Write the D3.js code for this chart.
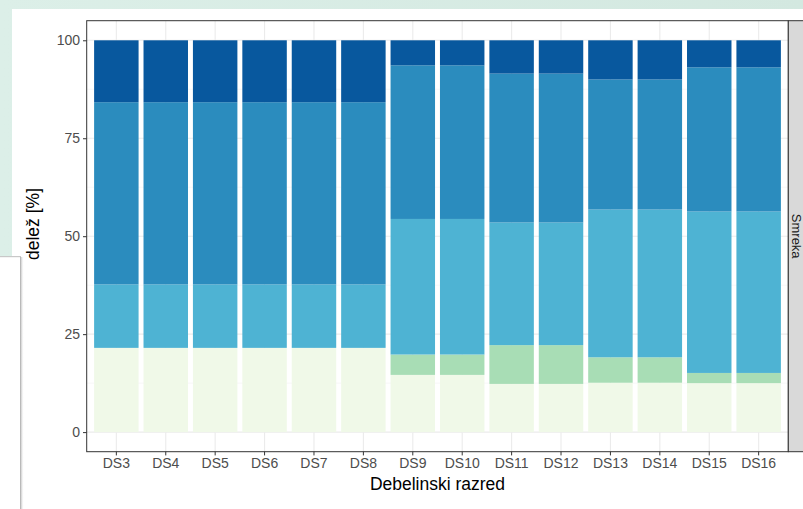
<!DOCTYPE html>
<html><head><meta charset="utf-8">
<script src="https://cdn.jsdelivr.net/npm/d3@7"></script>
<style>html,body{margin:0;padding:0;overflow:hidden;background:#fff}</style>
</head><body>
<svg id="c" width="803" height="509"></svg>
<script>
const categories = ["DS3","DS4","DS5","DS6","DS7","DS8","DS9","DS10","DS11","DS12","DS13","DS14","DS15","DS16"];
const seriesNames = ["s1","s2","s3","s4","s5"];
const seriesColors = ["#f0f9e8","#a8ddb5","#4eb3d3","#2b8cbe","#08589e"];
const s1 = [21.5,21.5,21.5,21.5,21.5,21.5,14.6,14.6,12.3,12.3,12.6,12.6,12.5,12.5];
const s2 = [0,0,0,0,0,0,5.2,5.2,9.9,9.9,6.5,6.5,2.6,2.6];
const s3 = [16.2,16.2,16.2,16.2,16.2,16.2,34.6,34.6,31.3,31.3,37.7,37.7,41.2,41.2];
const s4 = [46.5,46.5,46.5,46.5,46.5,46.5,39.2,39.2,38.0,38.0,33.2,33.2,36.8,36.8];
const s5 = [15.8,15.8,15.8,15.8,15.8,15.8,6.4,6.4,8.5,8.5,10.0,10.0,6.9,6.9];
const yTicks = [0,25,50,75,100];
const yMinor = [12.5,37.5,62.5,87.5];
const xTitle = "Debelinski razred";
const yTitle = "delež [%]";
const facetLabel = "Smreka";

const svg = d3.select("#c");
// page background
const defs = svg.append("defs");
const g1 = defs.append("linearGradient").attr("id","bg").attr("x1","0").attr("y1","0").attr("x2","1").attr("y2","0");
g1.append("stop").attr("offset","0").attr("stop-color","#dcefe8");
g1.append("stop").attr("offset","1").attr("stop-color","#d3e8e0");
const sh = defs.append("linearGradient").attr("id","sh").attr("x1","0").attr("x2","1");
sh.append("stop").attr("offset","0").attr("stop-color","#9a9a9a").attr("stop-opacity","0.9");
sh.append("stop").attr("offset","1").attr("stop-color","#ffffff").attr("stop-opacity","0");
svg.append("rect").attr("width",803).attr("height",509).attr("fill","url(#bg)");
svg.append("rect").attr("x",12).attr("y",9).attr("width",791).attr("height",500).attr("fill","#fff");
// overlay card at bottom left
svg.append("rect").attr("x",0).attr("y",257).attr("width",21).attr("height",252).attr("fill","#fff");
svg.append("rect").attr("x",0).attr("y",256).attr("width",21).attr("height",1.2).attr("fill","#c8c8c8");
svg.append("rect").attr("x",20).attr("y",257).attr("width",4).attr("height",252).attr("fill","url(#sh)");

const P = {l:86.7, r:788.3, t:20.7, b:451.7};
const x = d3.scaleBand().domain(categories).range([P.l,P.r]).paddingInner(0.1).paddingOuter(0.15);
const y = d3.scaleLinear().domain([-5,105]).range([P.b,P.t]);

const g = svg.append("g");
// panel bg
g.append("rect").attr("x",P.l).attr("y",P.t).attr("width",P.r-P.l).attr("height",P.b-P.t).attr("fill","#fff");
// grid
g.selectAll(".ymin").data(yMinor).join("line").attr("x1",P.l).attr("x2",P.r)
  .attr("y1",d=>y(d)).attr("y2",d=>y(d)).attr("stroke","#f1f1f1").attr("stroke-width",0.6);
g.selectAll(".ymaj").data(yTicks).join("line").attr("x1",P.l).attr("x2",P.r)
  .attr("y1",d=>y(d)).attr("y2",d=>y(d)).attr("stroke","#ebebeb").attr("stroke-width",1.1);
g.selectAll(".xmaj").data(categories).join("line").attr("y1",P.t).attr("y2",P.b)
  .attr("x1",d=>x(d)+x.bandwidth()/2).attr("x2",d=>x(d)+x.bandwidth()/2).attr("stroke","#ebebeb").attr("stroke-width",1.1);

// stacked bars
const rows = categories.map((c,i)=>({cat:c,s1:s1[i],s2:s2[i],s3:s3[i],s4:s4[i],s5:s5[i]}));
const stack = d3.stack().keys(seriesNames)(rows);
stack.forEach((layer,li)=>{
  g.append("g").selectAll("rect").data(layer).join("rect")
    .attr("x",d=>x(d.data.cat)).attr("width",x.bandwidth())
    .attr("y",d=>y(d[1])).attr("height",d=>Math.max(0,y(d[0])-y(d[1])))
    .attr("fill",seriesColors[li]);
});

// panel border
g.append("rect").attr("x",P.l).attr("y",P.t).attr("width",P.r-P.l).attr("height",P.b-P.t)
  .attr("fill","none").attr("stroke","#333").attr("stroke-width",1);

// axes
const yAxis = d3.axisLeft(y).tickValues(yTicks).tickSize(3.7).tickPadding(3);
const ya = svg.append("g").attr("transform",`translate(${P.l},0)`).call(yAxis);
const xAxis = d3.axisBottom(x).tickSize(3.7).tickPadding(3);
const xa = svg.append("g").attr("transform",`translate(0,${P.b})`).call(xAxis);
[ya,xa].forEach(a=>{
  a.select(".domain").remove();
  a.selectAll(".tick line").attr("stroke","#333").attr("stroke-width",1);
  a.selectAll(".tick text").attr("fill","#4d4d4d").style("font-family","'Liberation Sans',Arial,sans-serif").style("font-size","14px");
});

// titles
svg.append("text").attr("x",(P.l+P.r)/2).attr("y",490).attr("text-anchor","middle")
  .style("font-family","'Liberation Sans',Arial,sans-serif").style("font-size","17.5px").attr("fill","#000").text(xTitle);
svg.append("text").attr("transform",`translate(39,224) rotate(-90)`).attr("text-anchor","middle")
  .style("font-family","'Liberation Sans',Arial,sans-serif").style("font-size","17.5px").attr("fill","#000").text(yTitle);

// facet strip
svg.append("rect").attr("x",P.r).attr("y",P.t).attr("width",24).attr("height",P.b-P.t)
  .attr("fill","#d9d9d9").attr("stroke","#333").attr("stroke-width",1);
svg.append("text").attr("transform",`translate(792,${(P.t+P.b)/2}) rotate(90)`).attr("text-anchor","middle")
  .style("font-family","'Liberation Sans',Arial,sans-serif").style("font-size","13px").attr("fill","#1a1a1a").text(facetLabel);
</script>
</body></html>
